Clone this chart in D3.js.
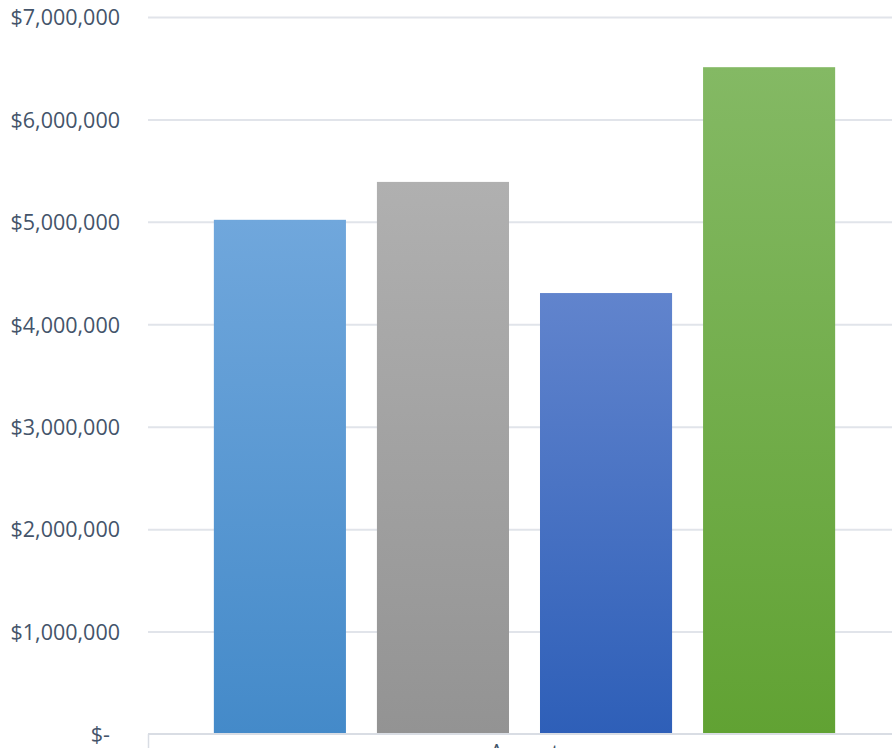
<!DOCTYPE html>
<html>
<head>
<meta charset="utf-8">
<script src="https://cdn.jsdelivr.net/npm/d3@7"></script>
<style>
  html, body { margin: 0; padding: 0; background: #ffffff; }
  svg { display: block; }
</style>
</head>
<body>
<svg id="chart" width="892" height="748"></svg>
<script>
// Monthly totals, one bar per series within the single category
const categories = ["August"];
const seriesNames = ["Series 1", "Series 2", "Series 3", "Series 4"];
const seriesValues = [5020000, 5390000, 4305000, 6510000];
const tickValues = [0, 1000000, 2000000, 3000000, 4000000, 5000000, 6000000, 7000000];

// Gradient stops (top, bottom) for each series
const seriesColors = [
  ["#70a7dc", "#448ac9"],
  ["#b0b0b0", "#939393"],
  ["#6184cd", "#2e5fb8"],
  ["#84b964", "#61a233"]
];

const svg = d3.select("#chart");
const plot = { left: 148, right: 901, top: 17, bottom: 734 };
const fontFamily = "'Open Sans', 'Noto Sans', sans-serif";
const textColor = "#44546a";

const y = d3.scaleLinear().domain([0, 7000000]).range([plot.bottom, plot.top]);
const x0 = d3.scaleBand().domain(categories).range([plot.left, plot.right]).paddingInner(0).paddingOuter(0.106);
const x1 = d3.scaleBand().domain(seriesNames).range([0, x0.bandwidth()]).paddingInner(0.19).paddingOuter(0);

const fmt = v => v === 0 ? "$-" : "$" + d3.format(",")(v);

// gradients
const defs = svg.append("defs");
seriesColors.forEach((c, i) => {
  const g = defs.append("linearGradient")
    .attr("id", "grad" + i)
    .attr("x1", 0).attr("y1", 0).attr("x2", 0).attr("y2", 1);
  g.append("stop").attr("offset", "0%").attr("stop-color", c[0]);
  g.append("stop").attr("offset", "100%").attr("stop-color", c[1]);
});

// horizontal gridlines + value axis labels
const yAxis = d3.axisLeft(y).tickValues(tickValues).tickFormat(fmt)
  .tickSize(-(892 - plot.left)).tickPadding(28);
const gy = svg.append("g").attr("transform", `translate(${plot.left},0)`).call(yAxis);
gy.select(".domain").remove();
gy.selectAll(".tick line").attr("stroke", "#e1e4ea").attr("stroke-width", 2)
  .filter(d => d === 0).remove();
gy.selectAll(".tick text")
  .attr("fill", textColor)
  .attr("font-family", fontFamily)
  .attr("font-size", "21.5px")
  .attr("dy", "0.36em")
  .attr("dx", d => d === 0 ? -10 : 0);

// bars
const cat = svg.append("g").selectAll("g").data(categories).join("g")
  .attr("transform", d => `translate(${x0(d)},0)`);
cat.selectAll("rect")
  .data(seriesValues.map((v, i) => ({ name: seriesNames[i], value: v, i })))
  .join("rect")
  .attr("x", d => x1(d.name))
  .attr("y", d => y(d.value))
  .attr("width", x1.bandwidth())
  .attr("height", d => y(0) - y(d.value))
  .attr("fill", d => `url(#grad${d.i})`);

// category axis
const xAxis = d3.axisBottom(x0).tickSize(0).tickPadding(26);
const gx = svg.append("g").attr("transform", `translate(0,${plot.bottom})`).call(xAxis);
gx.select(".domain").remove();
gx.append("line")
  .attr("x1", plot.left).attr("x2", 892)
  .attr("y1", 0).attr("y2", 0)
  .attr("stroke", "#d9dde4").attr("stroke-width", 2);
gx.append("line")
  .attr("x1", plot.left + 0.5).attr("x2", plot.left + 0.5)
  .attr("y1", 0).attr("y2", 20)
  .attr("stroke", "#d9dde4").attr("stroke-width", 1.5);
gx.selectAll(".tick text")
  .attr("fill", textColor)
  .attr("font-family", fontFamily)
  .attr("font-size", "21.5px")
  .attr("dy", "0");
</script>
</body>
</html>
